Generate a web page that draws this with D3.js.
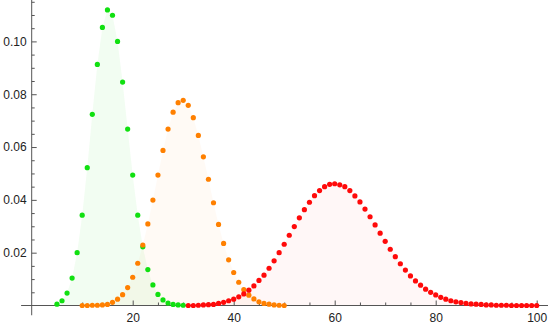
<!DOCTYPE html>
<meta charset="utf-8">
<script src="https://d3js.org/d3.v7.min.js"></script>
<style>
  body { margin: 0; }
  .tick text { font-family: "Liberation Sans", Arial, sans-serif; font-size: 12px; fill: #222; }
  .tick line { stroke: #555; }
</style>
<body>
<div id="chart"></div>

<script>
// values, one point per integer x
var greenStart = 5;
var greenValues = [0.0005, 0.0018, 0.0047, 0.0104, 0.0200, 0.0342, 0.0522, 0.0724, 0.0913, 0.1053,
  0.1119, 0.1099, 0.1000, 0.0846, 0.0668, 0.0494, 0.0342, 0.0222, 0.0136, 0.0078,
  0.0042, 0.0021, 0.0009, 0.0004, 0.0002, 0.0001];

var orangeStart = 10;
var orangeValues = [0.0000, 0.0000, 0.0001, 0.0001, 0.0002, 0.0004, 0.0012, 0.0024, 0.0041, 0.0068,
  0.0107, 0.0160, 0.0229, 0.0309, 0.0399, 0.0494, 0.0587, 0.0668, 0.0732, 0.0768,
  0.0777, 0.0758, 0.0711, 0.0644, 0.0563, 0.0478, 0.0389, 0.0307, 0.0235, 0.0173,
  0.0125, 0.0088, 0.0060, 0.0039, 0.0025, 0.0014, 0.0008, 0.0005, 0.0002, 0.0001, 0.0000];

var redStart = 31;
var redValues = [0.0000, 0.0000, 0.0001, 0.0002, 0.0003, 0.0004, 0.0008, 0.0012, 0.0018, 0.0024,
  0.0033, 0.0044, 0.0058, 0.0074, 0.0095, 0.0115, 0.0141, 0.0169, 0.0200, 0.0232,
  0.0266, 0.0299, 0.0332, 0.0363, 0.0391, 0.0416, 0.0435, 0.0450, 0.0459, 0.0461,
  0.0457, 0.0450, 0.0435, 0.0415, 0.0392, 0.0365, 0.0336, 0.0305, 0.0274, 0.0243,
  0.0213, 0.0185, 0.0158, 0.0134, 0.0112, 0.0093, 0.0077, 0.0062, 0.0050, 0.0040,
  0.0031, 0.0024, 0.0018, 0.0014, 0.0011, 0.0008, 0.0006, 0.0005, 0.0004, 0.0002,
  0.0002, 0.0001, 0.0001, 0.0001, 0.0000, 0.0000, 0.0000, 0.0000, 0.0000, 0.0000];

var xMajorTicks = [20, 40, 60, 80, 100];
var yMajorTicks = [0.02, 0.04, 0.06, 0.08, 0.10];

var series = [
  {start: greenStart, values: greenValues, color: "#10e010", fillOpacity: 0.055},
  {start: orangeStart, values: orangeValues, color: "#ff8000", fillOpacity: 0.04},
  {start: redStart, values: redValues, color: "#ff0a0a", fillOpacity: 0.03}
];

var width = 548, height = 327;

var svg = d3.select("#chart")
  .append("svg")
    .attr("width", width)
    .attr("height", height);

var x = d3.scaleLinear()
  .domain([0, 100])
  .range([31.7, 536.7]);

var y = d3.scaleLinear()
  .domain([0, 0.1])
  .range([305.5, 41.4]);

// turn each series into points
series.forEach(function(s) {
  s.points = s.values.map(function(v, i) { return {x: s.start + i, y: v}; });
});

// light filling down to the axis
var area = d3.area()
  .x(function(d) { return x(d.x); })
  .y0(y(0))
  .y1(function(d) { return y(d.y); });

svg.selectAll(".fill")
  .data(series)
  .enter().append("path")
    .attr("class", "fill")
    .attr("d", function(s) { return area(s.points); })
    .attr("fill", function(s) { return s.color; })
    .attr("fill-opacity", function(s) { return s.fillOpacity; });

// axes lines (reach a bit past the data range, like the original)
svg.append("line")
  .attr("x1", x(-2.1)).attr("x2", x(102.5))
  .attr("y1", y(0)).attr("y2", y(0))
  .attr("stroke", "#555");
svg.append("line")
  .attr("x1", x(0)).attr("x2", x(0))
  .attr("y1", y(0.1157)).attr("y2", y(-0.0037))
  .attr("stroke", "#555");

// x ticks, pointing up
var xMinor = d3.range(5, 101, 5).filter(function(v) { return xMajorTicks.indexOf(v) < 0; });
svg.append("g")
  .attr("transform", "translate(0," + y(0) + ")")
  .call(d3.axisBottom(x).tickValues(xMinor).tickSize(-3).tickFormat(""))
  .call(function(g) { g.select(".domain").remove(); });
svg.append("g")
  .attr("transform", "translate(0," + y(0) + ")")
  .call(d3.axisBottom(x).tickValues(xMajorTicks).tickSize(-5).tickPadding(8).tickFormat(d3.format("d")))
  .call(function(g) { g.select(".domain").remove(); });

// y ticks, pointing right
var yMinor = d3.range(1, 24).map(function(i) { return i * 0.005; })
  .filter(function(v) { return Math.round(v * 1000) % 20 != 0; });
svg.append("g")
  .attr("transform", "translate(" + x(0) + ",0)")
  .call(d3.axisLeft(y).tickValues(yMinor).tickSize(-3).tickFormat(""))
  .call(function(g) { g.select(".domain").remove(); });
svg.append("g")
  .attr("transform", "translate(" + x(0) + ",0)")
  .call(d3.axisLeft(y).tickValues(yMajorTicks).tickSize(-5).tickPadding(5).tickFormat(d3.format(".2f")))
  .call(function(g) { g.select(".domain").remove(); });

// the points
series.forEach(function(s) {
  svg.append("g")
    .selectAll("circle")
    .data(s.points)
    .enter().append("circle")
      .attr("cx", function(d) { return x(d.x); })
      .attr("cy", function(d) { return y(d.y); })
      .attr("r", 2.6)
      .attr("fill", s.color);
});
</script>
</body>
